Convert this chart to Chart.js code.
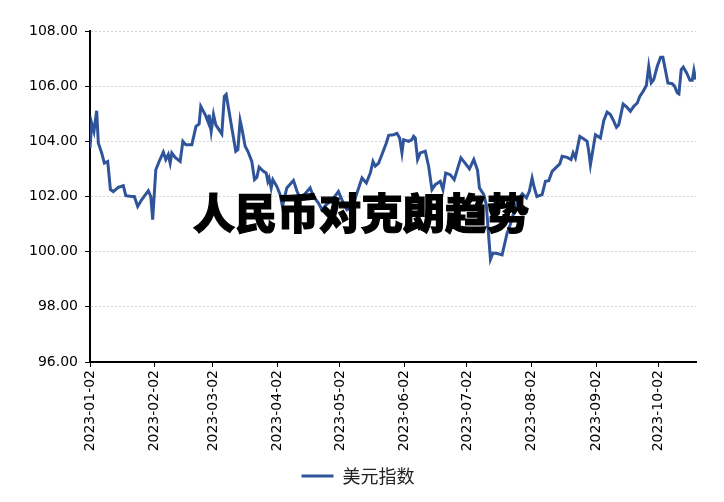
<!DOCTYPE html>
<html>
<head>
<meta charset="utf-8">
<script src="https://cdn.jsdelivr.net/npm/chart.js@4"></script>
<style>
  body { margin: 0; background: #fff; }
  #wrap { position: relative; width: 724px; height: 502px; }
  #title {
    position: absolute; left: 193px; top: 190px;
    font: 900 42px 'Noto Sans CJK SC', sans-serif; color: #000;
    -webkit-text-stroke: 1.2px #000;
    line-height: 42px; white-space: nowrap;
  }
</style>
</head>
<body>
<div id="wrap">
  <canvas id="dxyChart"></canvas>
  <div id="title">人民币对克朗趋势</div>
</div>
<script>
// x = days since 2023-01-02, y = index value
const days = [0, 0.8, 1.9, 3.2, 4.0, 5.6, 6.9, 8.5, 9.8, 11.2, 13.6, 16.0, 17.2, 20.0, 21.3, 22.9, 24.8, 28.0, 29.2, 30.1,
  31.6, 33.2, 35.2, 36.4, 37.6, 38.5, 39.3, 40.9, 43.3, 44.6, 46.0, 48.9, 50.9, 52.4, 53.2, 55.3, 56.9, 57.2, 58.2, 59.3,
  60.4, 63.3, 64.5, 65.4, 66.5, 68.1, 70.0, 71.0, 72.1, 72.9, 74.5, 75.8, 77.7, 79.0, 80.1, 81.2, 83.3, 84.6, 85.4, 86.0,
  87.0, 87.8, 89.7, 91.3, 92.4, 94.5, 97.7, 99.4, 100.9, 103.3, 105.7, 107.3, 109.7, 111.4, 113.4, 116.9, 119.3, 121.0, 123.4, 125.9,
  129.0, 130.6, 132.7, 134.6, 135.9, 137.0, 138.6, 140.2, 142.3, 143.4, 145.8, 147.4, 148.7, 149.8, 150.6, 153.0, 154.6, 155.4, 156.2, 157.3,
  158.6, 161.0, 162.6, 164.2, 165.8, 168.2, 169.5, 170.8, 173.0, 174.9, 178.1, 180.2, 182.2, 184.3, 186.1, 187.0, 189.1, 190.3, 192.3, 193.5,
  195.6, 197.9, 198.7, 200.3, 201.9, 203.8, 205.7, 207.6, 209.6, 211.0, 212.3, 213.4, 214.6, 217.1, 218.7, 220.3, 221.9, 223.5, 225.6, 226.7,
  229.1, 231.0, 232.0, 233.1, 235.2, 236.8, 238.7, 239.5, 240.3, 242.7, 245.1, 246.7, 248.3, 249.9, 251.5, 252.8, 253.9, 256.0, 257.9, 259.5,
  261.1, 262.8, 264.0, 265.6, 267.2, 268.3, 269.5, 270.7, 272.4, 274.0, 275.1, 276.4, 277.5, 279.6, 280.7, 282.0, 282.8, 283.9, 284.9, 286.5,
  288.1, 289.2, 290.0, 290.8];
const values = [103.76, 104.66, 104.36, 105.11, 103.94, 103.58, 103.21, 103.27, 102.25, 102.18, 102.33, 102.39, 102.03, 102.0, 102.0, 101.64, 101.88, 102.21, 102.0, 101.16,
  102.97, 103.27, 103.61, 103.34, 103.52, 103.21, 103.58, 103.42, 103.27, 104.0, 103.88, 103.88, 104.54, 104.63, 105.27, 104.97, 104.66, 104.97, 104.36, 104.97,
  104.6, 104.27, 105.63, 105.7, 105.21, 104.48, 103.64, 103.7, 104.75, 104.48, 103.82, 103.64, 103.27, 102.61, 102.69, 103.06, 102.91, 102.85, 102.55, 102.67,
  102.31, 102.61, 102.37, 102.07, 101.64, 102.31, 102.58, 102.19, 101.94, 102.1, 102.31, 102.0, 101.76, 101.52, 101.7, 101.94, 102.18, 101.88, 101.52, 101.6,
  102.31, 102.67, 102.49, 102.85, 103.27, 103.1, 103.21, 103.52, 103.94, 104.22, 104.24, 104.29, 104.12, 103.58, 104.06, 104.0, 104.06, 104.18, 104.12, 103.34,
  103.58, 103.64, 103.1, 102.25, 102.43, 102.55, 102.25, 102.85, 102.79, 102.61, 103.4, 103.2, 103.0, 103.34, 102.95, 102.31, 102.07, 101.7, 99.72, 99.95,
  99.93, 99.88, 100.15, 100.67, 101.0, 101.5, 101.9, 102.1, 101.95, 102.2, 102.67, 102.3, 102.0, 102.07, 102.55, 102.57, 102.91, 103.03, 103.18, 103.46,
  103.42, 103.34, 103.58, 103.4, 104.18, 104.1, 104.0, 103.64, 103.15, 104.24, 104.12, 104.75, 105.06, 104.97, 104.73, 104.51, 104.6, 105.35, 105.23, 105.09,
  105.27, 105.39, 105.63, 105.81, 106.03, 106.72, 106.12, 106.24, 106.72, 107.05, 107.05, 106.55, 106.12, 106.09, 106.0, 105.76, 105.72, 106.6, 106.69, 106.48,
  106.21, 106.21, 106.57, 106.24];

const tickDays = [0, 31, 59, 90, 120, 151, 181, 212, 243, 273];
const tickLabels = ['2023-01-02', '2023-02-02', '2023-03-02', '2023-04-02', '2023-05-02',
  '2023-06-02', '2023-07-02', '2023-08-02', '2023-09-02', '2023-10-02'];

const lineColor = '#30549a';
const tickFont = { family: 'DejaVu Sans', size: 14 };

let ctx = document.getElementById('dxyChart').getContext('2d');
window.dxyChart = new Chart(ctx, {
  type: 'line',
  data: {
    datasets: [{
      label: '美元指数',
      data: days.map((d, i) => ({ x: d, y: values[i] })),
      borderColor: lineColor,
      backgroundColor: lineColor,
      borderWidth: 3,
      pointRadius: 0,
      tension: 0,
    }]
  },
  options: {
    responsive: true,
    maintainAspectRatio: false,
    animation: false,
    layout: { padding: { top: 31, right: 28, left: 20, bottom: 7 } },
    plugins: {
      tooltip: { enabled: false },
      legend: {
        position: 'bottom',
        labels: {
          usePointStyle: true,
          pointStyle: 'line',
          pointStyleWidth: 32,
          color: '#222',
          padding: 10,
          font: { family: 'Noto Sans CJK SC', size: 18 }
        }
      }
    },
    scales: {
      x: {
        type: 'linear',
        min: 0,
        max: 291,
        afterBuildTicks: function (scale) {
          scale.ticks = tickDays.map(v => ({ value: v }));
        },
        afterFit: function (scale) { scale.height = 95; },
        ticks: {
          color: '#000',
          font: tickFont,
          minRotation: 90,
          maxRotation: 90,
          padding: 3,
          callback: function (value) {
            let i = tickDays.indexOf(value);
            return i >= 0 ? tickLabels[i] : '';
          }
        },
        grid: { drawOnChartArea: false, drawTicks: true, tickLength: 5, tickColor: '#000' },
        border: { display: true, color: '#000', width: 2 }
      },
      y: {
        min: 96,
        max: 108,
        // plot area starts at x=90 (20 padding + 70 axis)
        afterFit: function (scale) { scale.width = 70; },
        ticks: {
          stepSize: 2,
          color: '#000',
          font: tickFont,
          padding: 7,
          callback: v => v.toFixed(2)
        },
        grid: { color: '#d4d4d4', lineWidth: 1, tickLength: 5, tickColor: '#000' },
        border: { display: true, color: '#000', width: 2, dash: [2, 2] }
      }
    }
  }
});
</script>
</body>
</html>
